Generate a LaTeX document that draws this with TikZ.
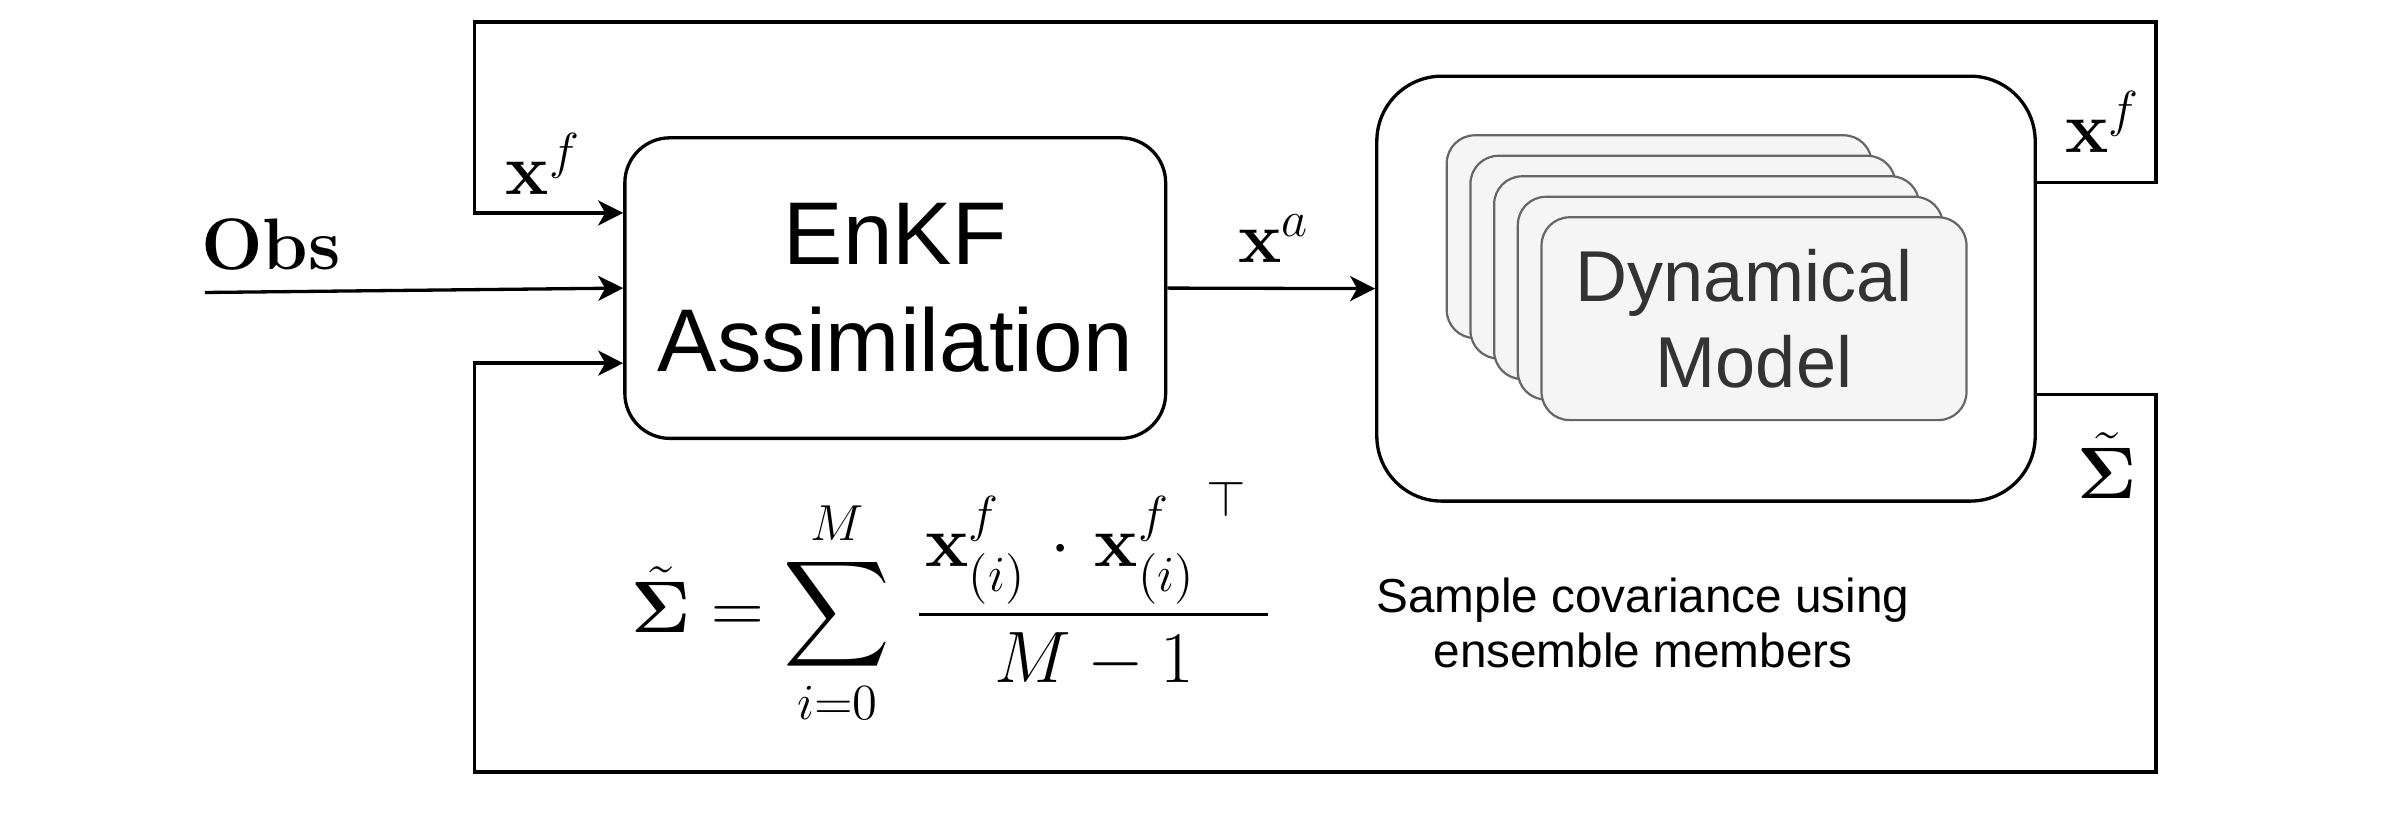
\documentclass[tikz,border=0pt]{standalone}
\usepackage{amsmath,amssymb}
\usepackage[no-math]{fontspec}
\newfontfamily\hv{Liberation Sans}
\usetikzlibrary{arrows.meta}
\definecolor{boxfill}{HTML}{F5F5F5}
\definecolor{boxline}{HTML}{666666}
\definecolor{boxtext}{HTML}{333333}
\tikzset{
  conn/.style={line width=0.033cm, -{Stealth[length=0.25cm,width=0.25cm,inset=0.07cm]}},
  enkfbox/.style={draw, line width=0.033cm, rounded corners=0.45cm, minimum width=5.405cm, minimum height=3.004cm, align=center, font=\hv\fontsize{25.32}{30.44}\selectfont},
  modelbox/.style={draw, line width=0.033cm, rounded corners=0.65cm, minimum width=6.58cm, minimum height=4.247cm},
  member/.style={draw=boxline, fill=boxfill, line width=0.022cm, rounded corners=0.28cm, minimum width=4.247cm, minimum height=2.027cm, align=center, text=boxtext, font=\hv\fontsize{20.49}{24.47}\selectfont},
  mathlbl/.style={font=\fontsize{21.05}{25}\selectfont, inner sep=0pt},
  caption/.style={align=center, font=\hv\fontsize{13.57}{15.65}\selectfont}
}
\begin{document}
\begin{tikzpicture}[x=0.01cm,y=-0.01cm]
\useasboundingbox (0,0) rectangle (2388,825);
% main blocks
\node[enkfbox] (enkf) at (895.25,288.1) {EnKF\\Assimilation};
\node[modelbox] (model) at (1706,288.65) {};
\foreach \k in {4,3,2,1}
  \node[member] (m\k) at ({1754-23.7*\k},{318.7-20.5*\k}) {};
\node[member] (m0) at (1754,318.7) {Dynamical\rule{0.278em}{0pt}\\Model};
% connectors
\coordinate (obsstart) at (205,292.5);
\draw[conn] (obsstart) -- (enkf.west);
\draw[conn] (enkf.east) -- (model.west);
\coordinate (tr) at (2156,22);
\coordinate (tl) at (474.5,22);
\coordinate (br) at (2156,772);
\coordinate (bl) at (474.5,772);
\draw[conn] ([yshift=1.06cm]model.east) -| (tr) -- (tl) |- ([yshift=0.751cm]enkf.west);
\draw[conn] ([yshift=-1.06cm]model.east) -| (br) -- (bl) |- ([yshift=-0.75cm]enkf.west);
% labels
\node[mathlbl, anchor=base] (obs) at (271,269.5) {$\mathbf{Obs}$};
\node[mathlbl, anchor=base] (xf1) at (543.3,194.7) {$\mathbf{x}^f$};
\node[mathlbl, anchor=base] (xa) at (1274,263) {$\mathbf{x}^a$};
\node[mathlbl, anchor=base] (xf2) at (2102.5,152.6) {$\mathbf{x}^f$};
\node[mathlbl, anchor=base] (sig) at (2107,499) {$\tilde{\boldsymbol{\Sigma}}$};
\node[mathlbl, anchor=base west] (eq) at (631,632.7)
  {$\displaystyle \tilde{\boldsymbol{\Sigma}} = \sum_{i=0}^{M}\mkern3mu \frac{\mkern1.5mu\mathbf{x}^{f}_{(i)}\mkern2mu\cdot\mkern2mu{\mathbf{x}^{f}_{(i)}}^{\mkern4mu\top}\mkern5mu}{M-1}$};
\node[caption] (cap) at (1643,623) {Sample covariance using\\ensemble members};
\end{tikzpicture}
\end{document}
